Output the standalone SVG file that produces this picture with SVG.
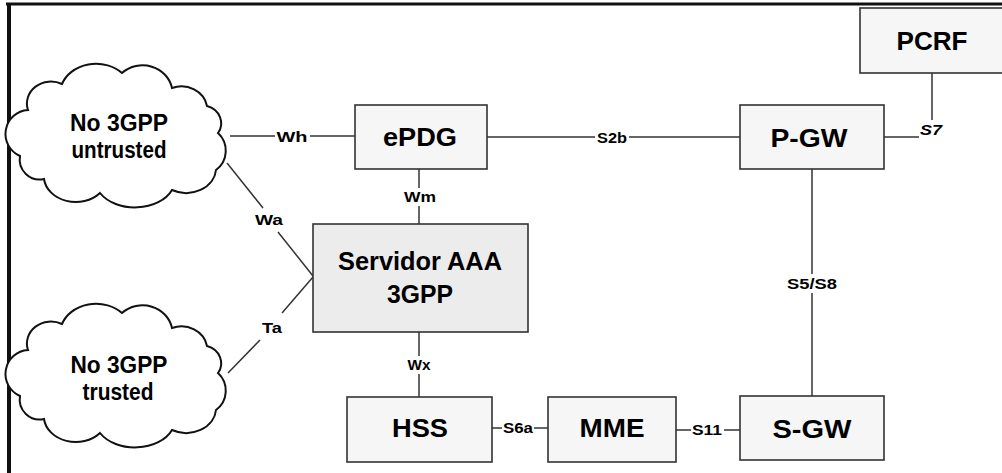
<svg xmlns="http://www.w3.org/2000/svg" width="1002" height="473" viewBox="0 0 1002 473">
<style>
.box{fill:#f6f6f6;stroke:#333;stroke-width:1.6}
.aaa{fill:#ececec;stroke:#333;stroke-width:1.6}
.cloud{fill:#fff;stroke:#111;stroke-width:2}
.ln{stroke:#333;stroke-width:1.5;fill:none}
.nt{font-family:"Liberation Sans",Arial,sans-serif;font-weight:bold;font-size:26px;fill:#000;text-anchor:middle}
.ct{font-family:"Liberation Sans",Arial,sans-serif;font-weight:bold;font-size:23px;fill:#000;text-anchor:middle}
.lb{font-family:"Liberation Sans",Arial,sans-serif;font-weight:bold;font-size:14px;fill:#000;text-anchor:middle}
</style>
<defs>
<path id="cloudShape" d="M 28 110 A 24 22 0 0 1 62 84 A 36 30 0 0 1 122 73 A 30 28 0 0 1 172 88 A 26 24 0 0 1 207 106 A 20 18 0 0 1 218 133 A 24 24 0 0 1 216 170 A 30 25 0 0 1 172 190 A 40 28 0 0 1 100 193 A 32 26 0 0 1 44 179 A 20 20 0 0 1 20 156 A 24 24 0 0 1 28 110 Z"/>
</defs>
<rect width="1002" height="473" fill="#fff"/>
<g id="frame">
<line x1="6" y1="4" x2="1002" y2="4" stroke="#111" stroke-width="3"/>
<line x1="9" y1="3" x2="9" y2="473" stroke="#111" stroke-width="4"/>
</g>
<g id="connectors">
<line class="ln" x1="230" y1="136" x2="275" y2="136"/>
<line class="ln" x1="310" y1="136" x2="355" y2="136"/>
<line class="ln" x1="487" y1="137" x2="595" y2="137"/>
<line class="ln" x1="629" y1="137" x2="740" y2="137"/>
<line class="ln" x1="419" y1="169" x2="419" y2="188"/>
<line class="ln" x1="419" y1="206" x2="419" y2="224"/>
<line class="ln" x1="419" y1="332" x2="419" y2="356"/>
<line class="ln" x1="419" y1="374" x2="419" y2="397"/>
<line class="ln" x1="492" y1="428" x2="502" y2="428"/>
<line class="ln" x1="534" y1="428" x2="548" y2="428"/>
<line class="ln" x1="676" y1="430" x2="691" y2="430"/>
<line class="ln" x1="724" y1="430" x2="740" y2="430"/>
<line class="ln" x1="812" y1="169" x2="812" y2="274"/>
<line class="ln" x1="812" y1="293" x2="812" y2="396"/>
<line class="ln" x1="884" y1="137" x2="919" y2="137"/>
<line class="ln" x1="932" y1="73" x2="932" y2="120"/>
<line class="ln" x1="227" y1="163" x2="263" y2="208"/>
<line class="ln" x1="278" y1="232" x2="313" y2="276"/>
<line class="ln" x1="313" y1="277" x2="282" y2="313"/>
<line class="ln" x1="260" y1="340" x2="228" y2="373"/>
<text class="lb" x="292" y="142" textLength="31" lengthAdjust="spacingAndGlyphs">Wh</text>
<text class="lb" x="612" y="143" textLength="30" lengthAdjust="spacingAndGlyphs">S2b</text>
<text class="lb" x="420" y="202" textLength="32" lengthAdjust="spacingAndGlyphs">Wm</text>
<text class="lb" x="419" y="370" textLength="23" lengthAdjust="spacingAndGlyphs">Wx</text>
<text class="lb" x="518" y="433" textLength="30" lengthAdjust="spacingAndGlyphs">S6a</text>
<text class="lb" x="707" y="435" textLength="30" lengthAdjust="spacingAndGlyphs">S11</text>
<text class="lb" x="812" y="289" textLength="50" lengthAdjust="spacingAndGlyphs">S5/S8</text>
<text class="lb" x="931" y="135" font-style="italic" textLength="22" lengthAdjust="spacingAndGlyphs">S7</text>
<text class="lb" x="269" y="225" textLength="28" lengthAdjust="spacingAndGlyphs">Wa</text>
<text class="lb" x="272" y="333" textLength="20" lengthAdjust="spacingAndGlyphs">Ta</text>
</g>
<g id="cloud-untrusted">
<use href="#cloudShape" class="cloud"/>
<text class="ct" x="119" y="131" textLength="98" lengthAdjust="spacingAndGlyphs">No 3GPP</text>
<text class="ct" x="119" y="158" textLength="95" lengthAdjust="spacingAndGlyphs">untrusted</text>
</g>
<g id="cloud-trusted">
<use href="#cloudShape" class="cloud" transform="translate(0,240)"/>
<text class="ct" x="119" y="373" textLength="97" lengthAdjust="spacingAndGlyphs">No 3GPP</text>
<text class="ct" x="118" y="400" textLength="71" lengthAdjust="spacingAndGlyphs">trusted</text>
</g>
<g id="ePDG">
<rect class="box" x="355" y="105" width="132" height="64"/>
<text class="nt" x="420" y="146" textLength="74" lengthAdjust="spacingAndGlyphs">ePDG</text>
</g>
<g id="PGW">
<rect class="box" x="740" y="105" width="144" height="64"/>
<text class="nt" x="809" y="147" textLength="77" lengthAdjust="spacingAndGlyphs">P-GW</text>
</g>
<g id="PCRF">
<rect class="box" x="860" y="8" width="150" height="65"/>
<text class="nt" x="932" y="50" textLength="71" lengthAdjust="spacingAndGlyphs">PCRF</text>
</g>
<g id="AAA">
<rect class="aaa" x="313" y="224" width="215" height="108"/>
<text class="nt" x="420" y="270" textLength="164" lengthAdjust="spacingAndGlyphs">Servidor AAA</text>
<text class="nt" x="420" y="303" textLength="66" lengthAdjust="spacingAndGlyphs">3GPP</text>
</g>
<g id="HSS">
<rect class="box" x="347" y="397" width="145" height="65"/>
<text class="nt" x="420" y="437" textLength="56" lengthAdjust="spacingAndGlyphs">HSS</text>
</g>
<g id="MME">
<rect class="box" x="548" y="397" width="128" height="65"/>
<text class="nt" x="612" y="437" textLength="65" lengthAdjust="spacingAndGlyphs">MME</text>
</g>
<g id="SGW">
<rect class="box" x="740" y="396" width="144" height="64"/>
<text class="nt" x="812" y="438" textLength="79" lengthAdjust="spacingAndGlyphs">S-GW</text>
</g>
</svg>
